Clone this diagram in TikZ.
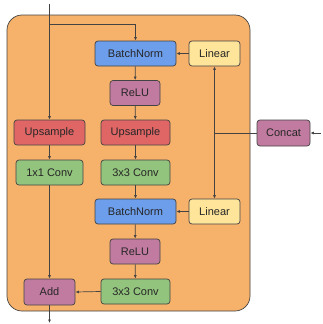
\documentclass[tikz,border=0pt]{standalone}
\usepackage{fontspec}
\setmainfont{Liberation Sans}
\usetikzlibrary{arrows.meta}
\definecolor{bgorange}{HTML}{F6B26B}
\definecolor{bnblue}{HTML}{6D9EEB}
\definecolor{mauve}{HTML}{C27BA0}
\definecolor{upred}{HTML}{E06666}
\definecolor{convgreen}{HTML}{93C47D}
\definecolor{linyellow}{HTML}{FFE599}
\definecolor{edge}{HTML}{434343}
\tikzset{
  blk/.style={draw=edge, line width=0.7pt, rounded corners=3pt, minimum height=25pt,
    inner sep=0pt, font=\fontsize{11}{13}\selectfont, text=black!85},
  bn/.style={blk, fill=bnblue, minimum width=81pt},
  relu/.style={blk, fill=mauve, minimum width=50pt},
  ups/.style={blk, fill=upred},
  conv/.style={blk, fill=convgreen},
  lin/.style={blk, fill=linyellow, minimum width=51pt},
  flow/.style={draw=edge, line width=0.7pt, -{Latex[length=3.5pt,width=3pt]}},
  wire/.style={draw=edge, line width=0.7pt}
}
\begin{document}
\begin{tikzpicture}[x=1pt,y=-1pt]
\useasboundingbox (0,0) rectangle (322,324);
% residual block body
\draw[draw=edge, line width=0.7pt, fill=bgorange, rounded corners=15pt] (7,15) rectangle (250,311);

% main path
\node[bn] (bn1) at (135.5,53.5) {BatchNorm};
\node[lin] (lin1) at (214.5,53.5) {Linear};
\node[relu] (relu1) at (135,93) {ReLU};
\node[ups, minimum width=71pt] (up1) at (49.5,132.5) {Upsample};
\node[ups, minimum width=69pt] (up2) at (135.5,132.5) {Upsample};
\node[blk, fill=mauve, minimum width=53pt, minimum height=26pt] (cat) at (283.5,133) {Concat};
\node[conv, minimum width=67pt] (c1) at (49.5,172.5) {1x1 Conv};
\node[conv, minimum width=69pt] (c3a) at (135.5,172.5) {3x3 Conv};
\node[bn] (bn2) at (135.5,211.5) {BatchNorm};
\node[lin] (lin2) at (214.5,211.5) {Linear};
\node[relu] (relu2) at (135,251.5) {ReLU};
\node[blk, fill=mauve, minimum width=51pt, minimum height=26pt] (add) at (49.5,292) {Add};
\node[conv, minimum width=69pt] (c3b) at (135.5,291.5) {3x3 Conv};

% input and skip branch
\coordinate (in) at (49.5,4);
\coordinate (split) at (49.5,24);
\coordinate (out) at (49.5,323);
\coordinate (catin) at (321,133);
\coordinate (tap) at (214.5,133);
\draw[wire] (in) -- (split);
\draw[flow] (split) -- (up1.north);
\draw[flow] (split) -| (bn1.north);

% conditioning input
\draw[flow] (catin) -- (cat.east);
\draw[wire] (cat.west) -- (tap);
\draw[flow] (tap) -- (lin1.south);
\draw[flow] (tap) -- (lin2.north);
\draw[flow] (lin1.west) -- (bn1.east);
\draw[flow] (lin2.west) -- (bn2.east);

% main chain
\draw[flow] (bn1) -- (relu1);
\draw[flow] (relu1) -- (up2);
\draw[flow] (up2) -- (c3a);
\draw[flow] (c3a) -- (bn2);
\draw[flow] (bn2) -- (relu2);
\draw[flow] (relu2) -- (c3b);
\draw[flow] (c3b.west) -- (add.east);

% skip chain
\draw[flow] (up1) -- (c1);
\draw[flow] (c1) -- (add);
\draw[flow] (add.south) -- (out);
\end{tikzpicture}
\end{document}
